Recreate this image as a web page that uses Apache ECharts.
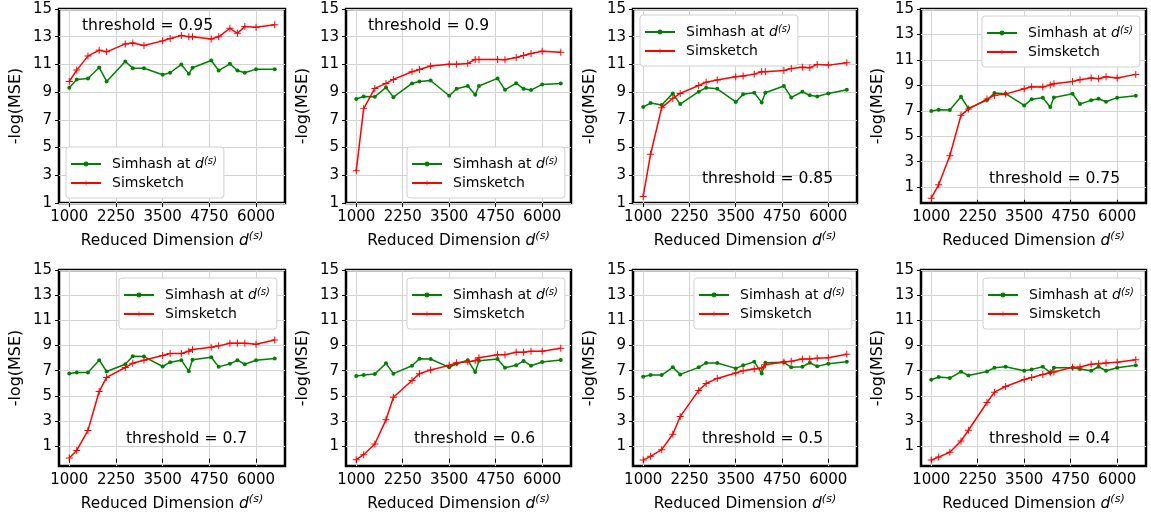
<!DOCTYPE html>
<html><head><meta charset="utf-8">
<script src="https://cdn.jsdelivr.net/npm/echarts@6/dist/echarts.min.js"></script>
<style>html,body{margin:0;padding:0;background:#fff}#c{width:1151px;height:519px}</style>
</head><body><div id="c"></div>
<script>
// ---- data ----
const dims = [1000,1200,1500,1800,2000,2500,2700,3000,3500,3700,4000,4200,4300,4800,5000,5300,5500,5700,6000,6500];
const xTicks = [1000,2250,3500,4750,6000];
const yTicks = [1,3,5,7,9,11,13,15];
const thresholds = ['0.95','0.9','0.85','0.75','0.7','0.6','0.5','0.4'];

const simhash095  = [9.32,9.92,9.99,10.78,9.77,11.21,10.73,10.73,10.25,10.40,11.0,10.32,10.76,11.28,10.56,11.04,10.56,10.40,10.66,10.66];
const simsketch095= [9.77,10.59,11.6,12.03,11.91,12.48,12.55,12.36,12.70,12.87,13.08,12.99,12.99,12.84,12.99,13.61,13.25,13.73,13.68,13.87];
const simhash090  = [8.50,8.69,8.67,9.34,8.64,9.63,9.77,9.84,8.74,9.24,9.44,8.81,9.44,9.99,9.17,9.65,9.24,9.15,9.56,9.63];
const simsketch090= [3.32,7.81,9.27,9.63,9.92,10.47,10.64,10.88,11.02,11.02,11.07,11.36,11.36,11.36,11.33,11.50,11.64,11.79,11.95,11.88];
const simhash085  = [7.93,8.21,8.07,8.91,8.14,9.03,9.32,9.24,8.29,8.84,8.96,8.26,8.96,9.44,8.62,9.03,8.77,8.69,8.91,9.17];
const simsketch085= [1.47,4.52,7.88,8.55,8.91,9.48,9.72,9.87,10.11,10.16,10.30,10.47,10.47,10.56,10.71,10.80,10.76,11.0,10.95,11.12];
const simhash075  = [6.98,7.08,7.06,8.10,7.19,7.84,8.39,8.34,7.42,7.90,8.03,7.29,8.05,8.34,7.53,7.82,7.95,7.71,8.03,8.18];
const simsketch075= [0.13,1.18,3.46,6.64,7.13,7.92,8.21,8.31,8.73,8.89,8.86,9.02,9.13,9.31,9.44,9.57,9.52,9.68,9.57,9.86];
const simhash070  = [6.77,6.85,6.85,7.83,6.93,7.51,8.15,8.12,7.33,7.67,7.83,6.96,7.86,8.07,7.30,7.54,7.83,7.51,7.83,7.96];
const simsketch070= [0.05,0.66,2.25,5.34,6.46,7.25,7.59,7.83,8.20,8.36,8.36,8.54,8.68,8.86,8.97,9.18,9.18,9.18,9.10,9.44];
const simhash060  = [6.57,6.65,6.73,7.58,6.76,7.39,7.95,7.93,7.26,7.55,7.82,6.89,7.79,7.93,7.23,7.42,7.77,7.39,7.69,7.85];
const simsketch060= [-0.08,0.32,1.17,3.09,4.89,6.22,6.76,7.05,7.42,7.63,7.71,7.79,8.03,8.27,8.27,8.46,8.46,8.54,8.54,8.78];
const simhash050  = [6.52,6.65,6.65,7.26,6.70,7.26,7.61,7.61,7.18,7.42,7.71,6.78,7.63,7.66,7.26,7.31,7.63,7.34,7.55,7.71];
const simsketch050= [-0.11,0.19,0.72,1.94,3.35,5.43,5.98,6.38,6.81,7.0,7.13,7.21,7.47,7.69,7.74,7.93,7.93,7.98,8.03,8.30];
const simhash040  = [6.28,6.49,6.41,6.91,6.62,6.94,7.23,7.31,6.99,7.10,7.31,6.84,7.23,7.23,7.13,6.99,7.31,6.99,7.23,7.42];
const simsketch040= [-0.11,0.13,0.51,1.41,2.26,4.47,5.29,5.74,6.30,6.46,6.70,6.84,6.89,7.26,7.29,7.50,7.55,7.61,7.66,7.87];

const simhashSets = [simhash095,simhash090,simhash085,simhash075,simhash070,simhash060,simhash050,simhash040];
const simsketchSets = [simsketch095,simsketch090,simsketch085,simsketch075,simsketch070,simsketch060,simsketch050,simsketch040];
const yMins = [1,1,1,-0.25,-0.58,-0.58,-0.58,-0.58];

// ---- layout ----
const colLeft = [59,346,633,921];
const colW = [226,225,224,225];
const rowTop = [9,270];
const rowH = [194,196];
const legendPos = [[66,147],[407,147],[640,15],[982,16],[119,278],[407,278],[694,278],[983,278]];
const labelPos = [[82,18],[368,18],[702,171],[989,171],[126,431],[414,431],[702,431],[989,431]];

const FONT = 'DejaVu Sans';
const plusPath = 'path://M-0.14,-1L0.14,-1L0.14,-0.14L1,-0.14L1,0.14L0.14,0.14L0.14,1L-0.14,1L-0.14,0.14L-1,0.14L-1,-0.14L-0.14,-0.14Z';

const grids=[], xAxes=[], yAxes=[], series=[], legends=[], titles=[];
for (let i=0;i<8;i++){
  const r = Math.floor(i/4), c = i%4;
  grids.push({left:colLeft[c], top:rowTop[r], width:colW[c], height:rowH[r], show:true,
    borderColor:'#000', borderWidth:2.5, backgroundColor:'transparent', containLabel:false});
  xAxes.push({type:'value', gridIndex:i, min:725, max:6775,
    axisLine:{show:false},
    axisTick:{show:true, length:4, customValues:xTicks, lineStyle:{color:'#000', width:1}},
    axisLabel:{customValues:xTicks, fontSize:15, color:'#000', fontFamily:FONT, margin:7, formatter:v=>String(v)},
    splitLine:{show:true, lineStyle:{color:'#d3d3d3', width:1}},
    name:'{a|Reduced Dimension }{d|d}{s|(s)}', nameLocation:'middle', nameGap:28,
    nameTextStyle:{rich:{
      a:{fontSize:15.4, fontFamily:FONT, color:'#000', lineHeight:20},
      d:{fontSize:15.4, fontFamily:FONT, fontStyle:'italic', color:'#000', lineHeight:20},
      s:{fontSize:11, fontFamily:FONT, fontStyle:'italic', color:'#000', lineHeight:10, verticalAlign:'top'}
    }}
  });
  yAxes.push({type:'value', gridIndex:i, min:yMins[i], max:15,
    axisLine:{show:false},
    axisTick:{show:true, length:4, customValues:yTicks, lineStyle:{color:'#000', width:1}},
    axisLabel:{customValues:yTicks, fontSize:15, color:'#000', fontFamily:FONT, margin:7, formatter:v=>String(v)},
    splitLine:{show:true, lineStyle:{color:'#d3d3d3', width:1}},
    name:'-log(MSE)', nameLocation:'middle', nameGap:35,
    nameTextStyle:{fontSize:16, fontFamily:FONT, color:'#000'}
  });
  series.push({type:'line', name:'Simhash', xAxisIndex:i, yAxisIndex:i,
    data:dims.map((d,j)=>[d, simhashSets[i][j]]),
    symbol:'circle', symbolSize:4, showSymbol:true,
    lineStyle:{color:'#008000', width:1.5}, itemStyle:{color:'#008000'}, z:3});
  series.push({type:'line', name:'Simsketch', xAxisIndex:i, yAxisIndex:i,
    data:dims.map((d,j)=>[d, simsketchSets[i][j]]),
    symbol:plusPath, symbolSize:7, showSymbol:true,
    lineStyle:{color:'#ff0000', width:1.5}, itemStyle:{color:'#ff0000'}, z:4});
  legends.push({left:legendPos[i][0], top:legendPos[i][1], orient:'vertical',
    data:['Simhash','Simsketch'], itemWidth:30, itemHeight:6, itemGap:5,
    padding:[9,7,8,4], backgroundColor:'#fff', borderColor:'#d0d0d0', borderWidth:1, borderRadius:3,
    selectedMode:false,
    formatter:function(n){ return n==='Simhash' ? '{a|Simhash at }{d|d}{s|(s)}' : '{a|Simsketch}'; },
    textStyle:{rich:{
      a:{fontSize:14, fontFamily:FONT, color:'#000', lineHeight:16, padding:[0,0,0,6]},
      d:{fontSize:14, fontFamily:FONT, fontStyle:'italic', color:'#000', lineHeight:16},
      s:{fontSize:10, fontFamily:FONT, fontStyle:'italic', color:'#000', lineHeight:8, verticalAlign:'top'}
    }}
  });
  titles.push({text:'threshold = '+thresholds[i], left:labelPos[i][0], top:labelPos[i][1], padding:0,
    textStyle:{fontSize:15.6, fontWeight:'normal', color:'#000', fontFamily:FONT}});
}

const chart = echarts.init(document.getElementById('c'), null, {renderer:'canvas'});
chart.setOption({animation:false, backgroundColor:'#fff', title:titles, grid:grids, xAxis:xAxes, yAxis:yAxes, legend:legends, series:series});
</script></body></html>
